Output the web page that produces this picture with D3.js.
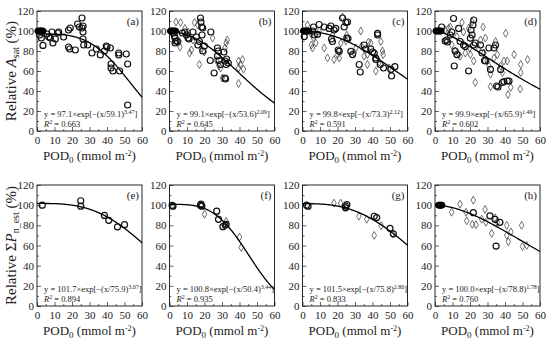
<!DOCTYPE html>
<html>
<head>
<meta charset="utf-8">
<script src="https://cdn.jsdelivr.net/npm/d3@7"></script>
<style>
  body { margin: 0; background: #fff; }
  svg text { font-family: "Palatino Linotype", "Book Antiqua", Palatino, "URW Palladio L", "Liberation Serif", "DejaVu Serif", serif; fill: #222; }
</style>
</head>
<body>
<script>
// tick labels
const xTicks = [0, 10, 20, 30, 40, 50, 60];
const yTicks = [0, 20, 40, 60, 80, 100, 120];
const letters = ['a', 'b', 'c', 'd', 'e', 'f', 'g', 'h'];

// fit parameters: y = A * exp(-(x/B)^C)
const fitA = [97.1, 99.1, 99.8, 99.9, 101.7, 100.8, 101.5, 100.0];
const fitB = [59.1, 53.6, 73.3, 65.9, 75.9, 50.4, 75.8, 78.8];
const fitC = ['3.47', '2.09', '2.12', '1.49', '3.07', '3.44', '2.80', '1.78'];
const r2 = ['0.663', '0.645', '0.591', '0.602', '0.894', '0.935', '0.833', '0.760'];

// reference points (x at 100 %)
const refA = [0.5, 1, 1.5, 2, 2.5, 3, 3.5];
const refB = [0.5, 1, 1.5, 2, 2.5, 3, 3.5];
const refC = [0.5, 1, 1.5, 2, 2.5, 3, 3.5];
const refD = [0.5, 1, 1.5, 2, 2.5, 3, 3.5];
const refE = [];
const refF = [];
const refG = [];
const refH = [2, 2.5, 3, 3.5, 4];

const circA = [[1.5,96],[2.5,93],[3.4,85.6],[5.7,97],[6.7,94],[7.6,93],[8.6,99],[9.1,88],[10.5,92],[11.8,98],[12.4,99],
  [15.2,94],[18,101],[19,103],[18,84],[18.7,82],[21.9,81],[23.2,107],[24.2,104],[25.7,113],[26.3,105],[25.7,103],
  [26.3,99],[26.3,92],[26.7,86],[29,86],[31.4,78],[33.9,82],[36.2,76],[38.5,80],[39.6,85],[40,84],[41.9,83],
  [42.3,67],[42.3,63],[43.4,60],[46.7,78],[46.7,76],[47.2,60],[51,77],[51.8,67],[51.8,26]];
const diaA = [];

const circB = [[2.2,98],[2.8,95],[3.2,93],[3.7,90],[4.5,89.5],[3.2,88],[7.4,98],[8.8,99],[9.7,96],[10.6,93],[11.2,92],
  [13.4,99],[15.3,94],[16.2,86],[17.1,89.5],[17.7,113],[18,109],[18.4,104],[19,103],[18.6,96],[19,80],[19.9,85],
  [23.6,99],[23.3,70.5],[25.5,58],[27.4,83],[27.9,80],[27.4,75],[28.3,70.5],[29.2,66.5],[31.1,79],[31.7,70],
  [31.7,53],[32,52],[32.4,66.5],[32.6,72],[33.6,68]];
const diaB = [[3.7,109],[5.6,89.5],[6,84],[6.3,108.5],[8.8,102.6],[10.6,99],[11.5,78],[12.5,81],[13.4,91],[14.3,108.5],
  [16.2,106],[17.1,66.5],[18,83],[19.9,79],[24.6,93],[26.8,70.5],[28.3,65],[29.2,63],[31.7,83],[32.4,88],[33,91],
  [30.2,53],[39.5,70],[40.4,66.5],[41.7,71.5],[39.5,47.5],[42.3,62],[39.5,63]];

const circC = [[1,94.4],[6.3,104],[5.7,100],[6.7,96],[8.6,96.7],[9.5,106.5],[12.4,104],[15.2,102.6],[16.2,105],[16.6,92],
  [17.1,89.5],[18,101],[19,102.6],[20.4,81],[21,79.7],[22.9,113],[23.8,104],[24.8,108.5],[25.3,92.8],[25.7,109],
  [26,92.5],[27.6,79.7],[28.6,76.4],[32.4,66.5],[33,59],[35.2,86],[36.2,82],[39,82],[40,79],[41,78],[41.9,73],
  [41.9,71.5],[42.9,97.7],[42.9,96],[44.4,66.5],[46.3,63],[50.5,61.6],[50.9,55],[52.8,64.3]];
const diaC = [[2.9,106],[4.8,97.7],[5.1,86],[5.7,83],[6.3,93],[7.6,88],[9.5,100],[12.4,83],[14.3,73],[17.1,96],[18,71.5],
  [20,76.4],[21,73],[21.9,88],[22.9,114],[24.8,90],[25.3,96],[30.5,83],[29.5,78],[33.3,100],[33.7,84.6],[35.2,74.8],
  [37.1,76.4],[37.7,88.9],[37.1,66.5],[39,88],[41.9,60],[43.8,68.9],[44.8,89.5],[45.7,80],[46.1,76.4],[49.5,63]];

const circD = [[3.8,104],[5.8,90],[6.7,91],[7.1,89],[8.7,96],[9.6,99],[10.6,112.5],[11,65],[11.5,80],[12.5,76.4],
  [13.5,102.6],[14.4,89.5],[16.3,86],[17.3,84.6],[19.2,60],[20.2,92.8],[20.6,101],[21.2,96],[21.7,106],[22.1,111],
  [22.1,86],[23,88],[26,86],[26.9,78],[28.3,70.5],[28.8,70],[30.8,83],[31.7,61.6],[33.7,83],[34.6,86],[35.2,45],
  [36,44],[37.5,61.6],[38.5,48.5],[39.4,49.5],[41.3,50],[42.3,50]];
const diaD = [[5.8,101],[7.7,102.6],[8.7,104],[9.6,86],[11.5,80],[12.5,94.4],[13.5,76.4],[14.4,74.8],[15.4,108.5],[16.3,99],
  [17.3,78],[19.2,102.6],[19.8,83],[20.2,76.4],[21.2,109],[22.1,70],[23,48.5],[25,82],[26,91],[27.5,104],[27.9,78],
  [28.8,93],[29.8,70],[30.8,65],[31.7,56.7],[31.7,44.3],[33.7,73],[34.6,89.5],[35.6,76.4],[37.5,65],[38.5,58.4],
  [39.4,70],[40.4,97.7],[41.3,70],[41.7,36.4],[43.3,43.6],[45.2,76.4],[49,66.5],[49,58.4],[48.7,42],[52.9,71.5]];

const circE = [[3,100],[25,104.4],[25,99],[38.5,89.8],[41,85],[46,78.4],[50,80.7]];
const diaE = [];

const circF = [[1.5,99.7],[2,99],[17.7,99.7],[18,101],[18.5,99],[27,94],[28,86],[30.5,78.7],[31.8,80.3],[32.4,81]];
const diaF = [[20,91],[32.4,84],[40,68.4],[41,58]];

const circG = [[2.3,100],[3.2,99],[24.6,99],[25.4,100.6],[24.6,97.4],[41,89],[42.4,87.7],[50,77],[51.9,71.6]];
const diaG = [[18,102],[21.8,102],[32.2,89],[36.7,86],[41,70],[44.9,79.7],[51.5,71.6]];

const circH = [[21.9,92.6],[31.4,89.4],[34.3,86],[37.1,83],[34.9,59.4]];
const diaH = [[9.5,93],[14.3,101],[17.7,93],[18.1,84.5],[21.3,81],[21.9,105],[23.4,80.6],[26.7,86],[28.6,95.8],[29.1,83],
  [32.4,72],[34.3,87.4],[35.6,83],[41,80],[41,70],[41.9,63.8],[43.4,73.5],[49.5,80],[50,59],[52.4,60]];

const refs = [refA, refB, refC, refD, refE, refF, refG, refH];
const circs = [circA, circB, circC, circD, circE, circF, circG, circH];
const dias = [diaA, diaB, diaC, diaD, diaE, diaF, diaG, diaH];

const W = 550, H = 340;
const colLeft = [37, 169.5, 302.5, 435];
const panelW = 105;
const rowTop = [11, 185];
const rowBottom = [131, 306];

const svg = d3.select('body').append('svg')
  .attr('width', W)
  .attr('height', H);

letters.forEach((letter, i) => {
  const row = Math.floor(i / 4), col = i % 4;
  const x0 = colLeft[col], y0 = rowTop[row], y1 = rowBottom[row];

  const x = d3.scaleLinear().domain([0, 60]).range([x0, x0 + panelW]);
  const y = d3.scaleLinear().domain([0, 120]).range([y1, y0]);

  const g = svg.append('g').attr('class', 'panel-' + letter);

  // minor ticks
  g.append('g')
    .attr('transform', `translate(0,${y1})`)
    .call(d3.axisBottom(x).tickValues([5, 15, 25, 35, 45, 55]).tickSize(-2).tickFormat(''))
    .call(a => a.select('.domain').remove());
  g.append('g')
    .attr('transform', `translate(${x0},0)`)
    .call(d3.axisLeft(y).tickValues([10, 30, 50, 70, 90, 110]).tickSize(-2).tickFormat(''))
    .call(a => a.select('.domain').remove());

  // major ticks
  g.append('g')
    .attr('transform', `translate(0,${y1})`)
    .call(d3.axisBottom(x).tickValues(xTicks).tickSizeInner(-4).tickSizeOuter(0).tickPadding(5))
    .call(a => a.select('.domain').remove())
    .call(a => a.selectAll('text').attr('font-size', 11).attr('font-family', null));
  g.append('g')
    .attr('transform', `translate(${x0},0)`)
    .call(d3.axisLeft(y).tickValues(yTicks).tickSizeInner(-4).tickSizeOuter(0).tickPadding(3))
    .call(a => a.select('.domain').remove())
    .call(a => a.selectAll('text').attr('font-size', 11).attr('font-family', null));

  g.selectAll('.tick line').attr('stroke', '#222').attr('stroke-width', 0.7);

  // frame
  g.append('rect')
    .attr('x', x0).attr('y', y0)
    .attr('width', panelW).attr('height', y1 - y0)
    .attr('fill', 'none')
    .attr('stroke', '#111')
    .attr('stroke-width', 0.9);

  // diamonds
  g.selectAll('.dia')
    .data(dias[i])
    .enter()
    .append('path')
    .attr('class', 'dia')
    .attr('d', d3.symbol().type(d3.symbolDiamond).size(18))
    .attr('transform', d => `translate(${x(d[0])},${y(d[1])})`)
    .attr('fill', 'none')
    .attr('stroke', '#333')
    .attr('stroke-width', 0.7);

  // circles
  g.selectAll('.circ')
    .data(circs[i])
    .enter()
    .append('circle')
    .attr('class', 'circ')
    .attr('cx', d => x(d[0]))
    .attr('cy', d => y(d[1]))
    .attr('r', 3)
    .attr('fill', 'none')
    .attr('stroke', '#111')
    .attr('stroke-width', 1.2);

  // reference points (100 %)
  g.selectAll('.ref')
    .data(refs[i])
    .enter()
    .append('circle')
    .attr('class', 'ref')
    .attr('cx', d => x(d))
    .attr('cy', y(100))
    .attr('r', 3)
    .attr('fill', '#000')
    .attr('stroke', '#000')
    .attr('stroke-width', 1);

  // fitted curve
  const A = fitA[i], B = fitB[i], C = +fitC[i];
  const xs = d3.range(0, 60.01, 0.5);
  const line = d3.line().x(d => x(d)).y(d => y(A * Math.exp(-Math.pow(d / B, C))));
  g.append('path')
    .datum(xs)
    .attr('d', line)
    .attr('fill', 'none')
    .attr('stroke', '#000')
    .attr('stroke-width', 1.3);

  // panel letter
  g.append('text')
    .attr('x', x0 + panelW - 3)
    .attr('y', y0 + 14)
    .attr('text-anchor', 'end')
    .attr('font-size', 11)
    .text('(' + letter + ')');

  // equation
  const eq = g.append('text')
    .attr('x', x0 + 7)
    .attr('y', y1 - 14)
    .attr('font-size', 8.5);
  eq.append('tspan').text(`y = ${A.toFixed(1)}×exp[−(x/${B.toFixed(1)})`);
  eq.append('tspan').attr('dy', -3.5).attr('font-size', 6).text(fitC[i]);
  eq.append('tspan').attr('dy', 3.5).text(']');

  const rt = g.append('text')
    .attr('x', x0 + 7)
    .attr('y', y1 - 4)
    .attr('font-size', 8.5);
  rt.append('tspan').attr('font-style', 'italic').text('R');
  rt.append('tspan').attr('dy', -3.5).attr('font-size', 6).text('2');
  rt.append('tspan').attr('dy', 3.5).text(' = ' + r2[i]);

  // x axis title
  const xt = g.append('text')
    .attr('x', x0 + panelW / 2)
    .attr('y', y1 + 29)
    .attr('text-anchor', 'middle')
    .attr('font-size', 13);
  xt.append('tspan').text('POD');
  xt.append('tspan').attr('dy', 3).attr('font-size', 9).text('0');
  xt.append('tspan').attr('dy', -3).text(' (mmol m');
  xt.append('tspan').attr('dy', -4).attr('font-size', 8).text('-2');
  xt.append('tspan').attr('dy', 4).text(')');
});

// y axis titles
const yt1 = svg.append('text')
  .attr('transform', `translate(16,${(rowTop[0] + rowBottom[0]) / 2}) rotate(-90)`)
  .attr('text-anchor', 'middle')
  .attr('font-size', 15);
yt1.append('tspan').text('Relative ');
yt1.append('tspan').attr('font-style', 'italic').text('A');
yt1.append('tspan').attr('dy', 3).attr('font-size', 10).text('sat');
yt1.append('tspan').attr('dy', -3).text(' (%)');

const yt2 = svg.append('text')
  .attr('transform', `translate(16,${(rowTop[1] + rowBottom[1]) / 2}) rotate(-90)`)
  .attr('text-anchor', 'middle')
  .attr('font-size', 15);
yt2.append('tspan').text('Relative Σ');
yt2.append('tspan').attr('font-style', 'italic').text('P');
yt2.append('tspan').attr('dy', 3).attr('font-size', 10).text('n_est');
yt2.append('tspan').attr('dy', -3).text(' (%)');
</script>
</body>
</html>
